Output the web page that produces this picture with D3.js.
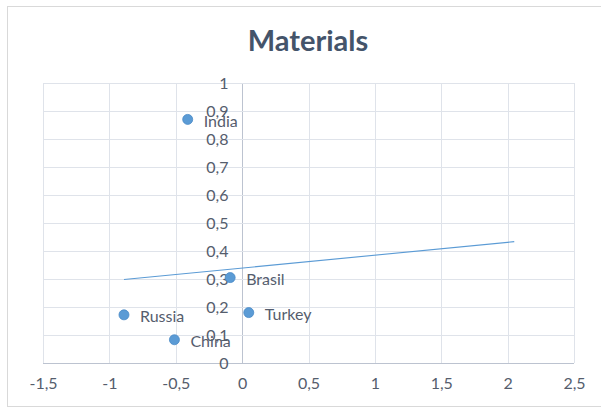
<!DOCTYPE html>
<html>
<head>
<meta charset="utf-8">
<script src="https://cdn.jsdelivr.net/npm/d3@7"></script>
<style>
html,body{margin:0;padding:0;background:#fff;}
svg{display:block;}
text{font-family:"Lato","Liberation Sans",sans-serif;}
</style>
</head>
<body>
<svg id="chart" width="601" height="408"></svg>
<script>
const countries = ["India", "Brasil", "Russia", "Turkey", "China"];
const xValues = [-0.41, -0.09, -0.89, 0.05, -0.51];
const yValues = [0.87, 0.305, 0.172, 0.18, 0.083];
const xTicks = [-1.5, -1, -0.5, 0, 0.5, 1, 1.5, 2, 2.5];
const yTicks = [0, 0.1, 0.2, 0.3, 0.4, 0.5, 0.6, 0.7, 0.8, 0.9, 1];
const title = "Materials";
const trendForward = 2;

const svg = d3.select("#chart");
const W = 601, H = 408;
const m = {left: 43, right: 574, top: 83, bottom: 363};

svg.append("rect").attr("x", 0).attr("y", 0).attr("width", W).attr("height", H).attr("fill", "#fff");
svg.append("rect").attr("x", 7.5).attr("y", 6.5).attr("width", 600).attr("height", 400)
  .attr("fill", "#fff").attr("stroke", "#d9d9d9").attr("stroke-width", 1);

const x = d3.scaleLinear().domain([-1.5, 2.5]).range([m.left, m.right]);
const y = d3.scaleLinear().domain([0, 1]).range([m.bottom, m.top]);

const fmt = v => String(+v.toFixed(1)).replace(".", ",");

// gridlines
const grid = svg.append("g");
grid.selectAll(".vg").data(xTicks).join("line")
  .attr("x1", d => Math.round(x(d)) + 0.5).attr("x2", d => Math.round(x(d)) + 0.5)
  .attr("y1", m.top).attr("y2", m.bottom)
  .attr("stroke", d => d === 0 ? "#bcc3d0" : "#dfe3ea").attr("stroke-width", 1);
grid.selectAll(".hg").data(yTicks).join("line")
  .attr("x1", m.left).attr("x2", m.right)
  .attr("y1", d => Math.round(y(d)) + 0.5).attr("y2", d => Math.round(y(d)) + 0.5)
  .attr("stroke", d => d === 0 ? "#bcc3d0" : "#dfe3ea").attr("stroke-width", 1);

// axes using d3 axis generators
const xAxis = d3.axisBottom(x).tickValues(xTicks).tickFormat(fmt).tickSize(0).tickPadding(14);
const gx = svg.append("g").attr("transform", `translate(0,${Math.round(y(0)) + 0.5})`).call(xAxis);
gx.select(".domain").remove();
gx.selectAll("text").attr("fill", "#555d6d").attr("font-size", 16).attr("font-family", null);

const yAxis = d3.axisLeft(y).tickValues(yTicks).tickFormat(fmt).tickSize(0).tickPadding(14);
const gy = svg.append("g").attr("transform", `translate(${Math.round(x(0)) + 0.5},0)`).call(yAxis);
gy.select(".domain").remove();
gy.selectAll("text").attr("fill", "#555d6d").attr("font-size", 16);
gx.attr("font-family", null); gy.attr("font-family", null);

// trendline (least squares)
const n = xValues.length;
const mx = d3.mean(xValues), my = d3.mean(yValues);
let sxy = 0, sxx = 0;
for (let i = 0; i < n; i++) { sxy += (xValues[i] - mx) * (yValues[i] - my); sxx += (xValues[i] - mx) ** 2; }
const slope = sxy / sxx, intercept = my - slope * mx;
const tx = [d3.min(xValues), d3.max(xValues) + trendForward];
svg.append("path")
  .attr("d", d3.line().x(d => x(d)).y(d => y(slope * d + intercept))(tx))
  .attr("stroke", "#5b9bd5").attr("stroke-width", 1.1).attr("fill", "none");

// points
const data = countries.map((c, i) => ({c, x: xValues[i], y: yValues[i]}));
svg.append("g").selectAll("circle").data(data).join("circle")
  .attr("cx", d => x(d.x)).attr("cy", d => y(d.y)).attr("r", 5)
  .attr("fill", "#5b9bd5").attr("stroke", "#4a8ac6").attr("stroke-width", 0.8);

svg.append("g").selectAll("text").data(data).join("text")
  .attr("x", d => x(d.x) + 16).attr("y", d => y(d.y) + 1)
  .attr("dominant-baseline", "central")
  .attr("font-size", 16).attr("fill", "#555d6d")
  .text(d => d.c);

// title
svg.append("text").attr("x", 308).attr("y", 51).attr("text-anchor", "middle")
  .attr("font-size", 29).attr("font-weight", "bold").attr("fill", "#44546a")
  .text(title);
</script>
</body>
</html>
